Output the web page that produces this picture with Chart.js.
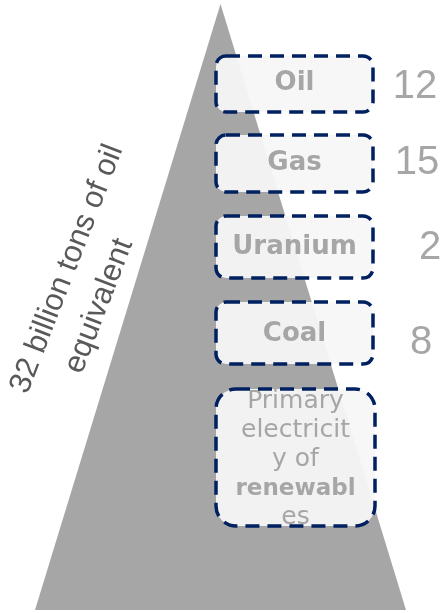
<!DOCTYPE html>
<html>
<head>
<meta charset="utf-8">
<script src="https://cdn.jsdelivr.net/npm/chart.js@4"></script>
<style>
  html, body { margin: 0; padding: 0; background: #fff; }
  canvas { display: block; }
</style>
</head>
<body>
<canvas id="myChart" width="446" height="613"></canvas>
<script>
// energy pyramid data
var sources = ['Oil', 'Gas', 'Uranium', 'Coal', 'Primary electricity of renewables'];
var values = [12, 15, 2, 8, null];
var pyramidTotal = 32;
var totalLabel = ['32 billion tons of oil', 'equivalent'];
// how the last label is wrapped in the picture (text, bold)
var renewLines = [['Primary', false], ['electricit', false], ['y of', false], ['renewabl', true], ['es', false]];

// pyramid outline: left base, apex, right base
var pyramidX = [0, 0.5, 1];
var pyramidY = [0, pyramidTotal, 0];

// box placement (pixels) - layout only
var boxes = [
    { x0: 216, y0: 56, x1: 373, y1: 112, r: 10, ty: 83, vx: 415, vy: 87 },
    { x0: 216, y0: 135, x1: 373, y1: 192, r: 10, ty: 163, vx: 417, vy: 163 },
    { x0: 216, y0: 216, x1: 373, y1: 278, r: 10, ty: 247, vx: 430, vy: 248 },
    { x0: 216, y0: 302, x1: 373, y1: 364, r: 10, ty: 334, vx: 421, vy: 343 },
    { x0: 216, y0: 389, x1: 375, y1: 526, r: 20, ty: 408, vx: 0, vy: 0 }
];
// centre of each line of the rotated label
var totalPos = [[67, 269], [99, 306]];

function roundRect(c, x0, y0, x1, y1, r) {
    c.beginPath();
    c.moveTo(x0 + r, y0);
    c.lineTo(x1 - r, y0);
    c.arcTo(x1, y0, x1, y0 + r, r);
    c.lineTo(x1, y1 - r);
    c.arcTo(x1, y1, x1 - r, y1, r);
    c.lineTo(x0 + r, y1);
    c.arcTo(x0, y1, x0, y1 - r, r);
    c.lineTo(x0, y0 + r);
    c.arcTo(x0, y0, x0 + r, y0, r);
    c.closePath();
}

var boxPlugin = {
    id: 'boxes',
    afterDatasetsDraw: function (chart) {
        var c = chart.ctx;
        c.save();
        boxes.forEach(function (b, i) {
            roundRect(c, b.x0, b.y0, b.x1, b.y1, b.r);
            c.fillStyle = 'rgba(247,247,247,0.94)';
            c.fill();

            c.fillStyle = '#a6a6a6';
            c.textAlign = 'center';
            var cx = (b.x0 + b.x1) / 2;
            if (i < 4) {
                c.font = 'bold 26px "DejaVu Sans"';
                c.textBaseline = 'middle';
                c.fillText(sources[i], cx, b.ty);
            } else {
                c.textBaseline = 'alphabetic';
                renewLines.forEach(function (l, k) {
                    c.font = (l[1] ? 'bold 23px' : '25px') + ' "DejaVu Sans"';
                    c.fillText(l[0], cx, b.ty + k * 29);
                });
            }

            roundRect(c, b.x0, b.y0, b.x1, b.y1, b.r);
            c.setLineDash([14, 8]);
            c.lineWidth = 3.5;
            c.strokeStyle = '#002060';
            c.stroke();
            c.setLineDash([]);

            if (values[i] != null) {
                c.font = '40px "Liberation Sans"';
                c.textBaseline = 'middle';
                c.fillStyle = '#a6a6a6';
                c.fillText(String(values[i]), b.vx, b.vy);
            }
        });

        // rotated total label
        c.font = '31px "Liberation Sans"';
        c.fillStyle = '#595959';
        c.textAlign = 'center';
        c.textBaseline = 'middle';
        totalLabel.forEach(function (t, k) {
            c.save();
            c.translate(totalPos[k][0], totalPos[k][1]);
            c.rotate(-68.8 * Math.PI / 180);
            c.fillText(t, 0, 0);
            c.restore();
        });
        c.restore();
    }
};

var ctx = document.getElementById('myChart').getContext('2d');
var chart = new Chart(ctx, {
    type: 'scatter',
    data: {
        datasets: [{
            label: 'Total',
            data: pyramidX.map(function (x, i) { return { x: x, y: pyramidY[i] }; }),
            showLine: true,
            fill: 'origin',
            backgroundColor: '#a6a6a6',
            borderWidth: 0,
            pointRadius: 0,
            tension: 0
        }]
    },
    options: {
        responsive: false,
        animation: false,
        layout: { padding: 0 },
        plugins: { legend: { display: false }, tooltip: { enabled: false } },
        scales: {
            x: { type: 'linear', display: false, min: -35 / 371, max: 411 / 371 },
            y: { type: 'linear', display: false, min: -3 / 18.9375, max: pyramidTotal + 4 / 18.9375 }
        }
    },
    plugins: [boxPlugin]
});
</script>
</body>
</html>
